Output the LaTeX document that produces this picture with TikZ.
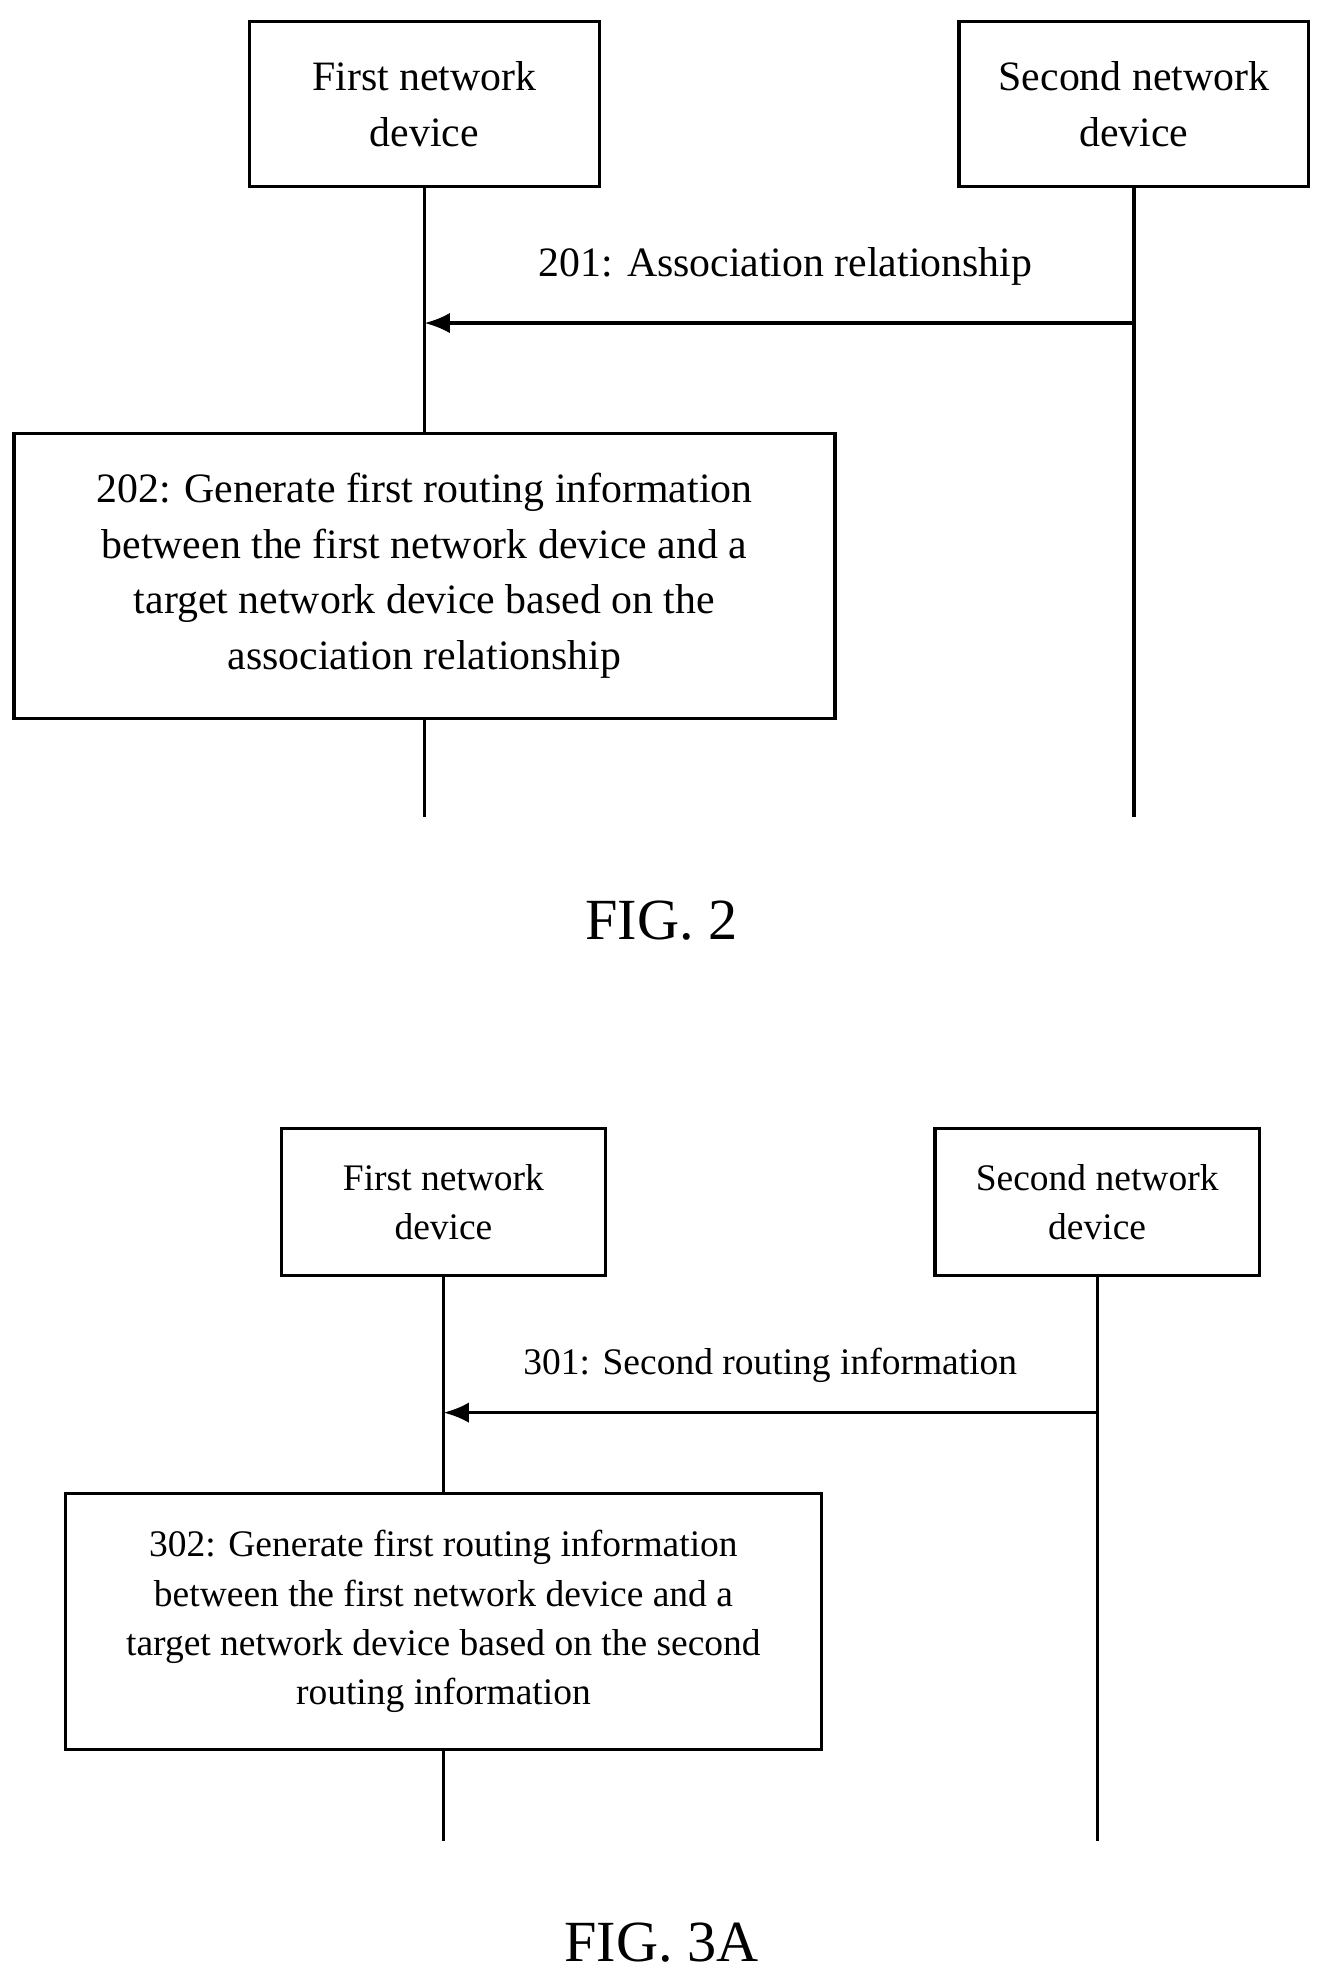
\documentclass[tikz,border=0pt]{standalone}
\usepackage{fontspec}
\setmainfont{Liberation Serif}
\usetikzlibrary{arrows.meta}
\tikzset{
  dev/.style={draw, line width=1.3pt, minimum width=138pt, minimum height=65pt, align=center, font=\fontsize{16.5}{22}\selectfont},
  devb/.style={draw, line width=1.3pt, minimum width=128pt, minimum height=58pt, align=center, font=\fontsize{14.8}{19.5}\selectfont},
  msg/.style={line width=1.3pt, -{Latex[length=10pt,width=8pt]}},
  life/.style={line width=1.3pt}
}
\begin{document}
\begin{tikzpicture}[x=0.5pt,y=-0.5pt]
  \useasboundingbox (0,0) rectangle (1050,1566);
  % FIG. 2
  \node[dev] (first) at (335,82) {First network\\device};
  \node[dev] (second) at (895,82) {Second network\\device};
  \node[dev, minimum width=324pt, minimum height=112.5pt] (gen) at (335,454.5)
    {202: Generate first routing information\\between the first network device and a\\target network device based on the\\association relationship};
  \coordinate (firstend) at (335,645);
  \coordinate (secondend) at (895,645);
  \coordinate (assocL) at (335,255);
  \coordinate (assocR) at (895,255);
  \draw[life] (first) -- (gen);
  \draw[life] (gen) -- (firstend);
  \draw[life] (second) -- (secondend);
  \draw[msg] (assocR) -- (assocL);
  \node[font=\fontsize{16.5}{18}\selectfont] (assoclbl) at (620,210) {201: Association relationship};
  \node[font=\fontsize{23}{26}\selectfont] (fig2) at (522,727) {FIG. 2};

  % FIG. 3A
  \node[devb] (firstb) at (350,949) {First network\\device};
  \node[devb] (secondb) at (866,949) {Second network\\device};
  \node[devb, minimum width=298.5pt, minimum height=101pt] (genb) at (350,1280)
    {302: Generate first routing information\\between the first network device and a\\target network device based on the second\\routing information};
  \coordinate (firstbend) at (350,1453);
  \coordinate (secondbend) at (866,1453);
  \coordinate (routeL) at (350,1115);
  \coordinate (routeR) at (866,1115);
  \draw[life] (firstb) -- (genb);
  \draw[life] (genb) -- (firstbend);
  \draw[life] (secondb) -- (secondbend);
  \draw[msg] (routeR) -- (routeL);
  \node[font=\fontsize{14.8}{16}\selectfont] (routelbl) at (608,1078) {301: Second routing information};
  \node[font=\fontsize{23}{26}\selectfont] (fig3) at (522,1533) {FIG. 3A};
\end{tikzpicture}
\end{document}
